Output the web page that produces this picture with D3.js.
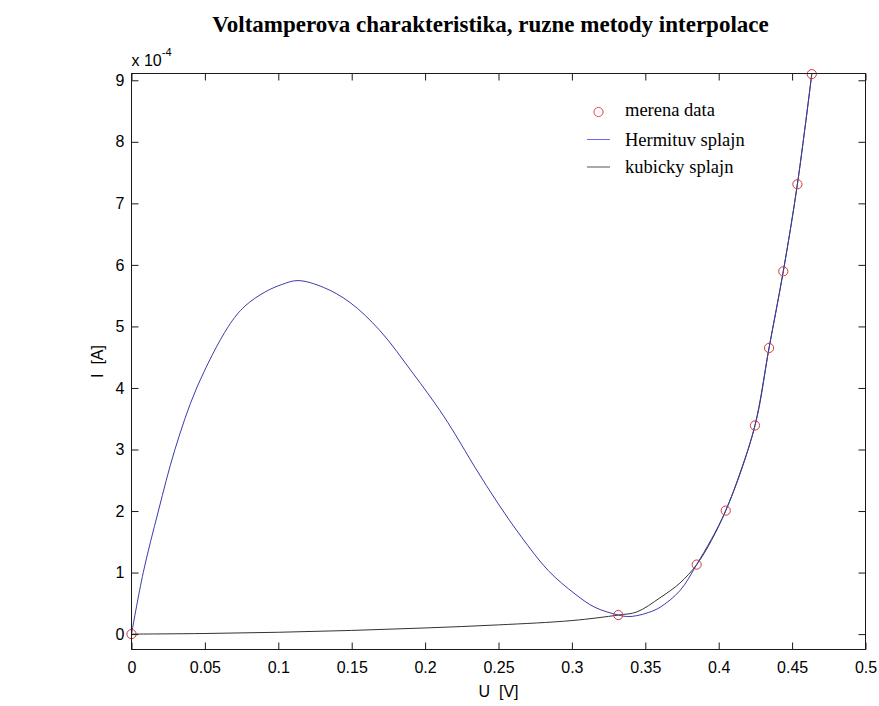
<!DOCTYPE html>
<html><head><meta charset="utf-8">
<script src="https://cdn.jsdelivr.net/npm/d3@7"></script>
<style>body{margin:0;background:#fff;} svg{display:block}</style>
</head><body><svg id="c" width="879" height="706"></svg>
<script>
// measured data (U in V, I in A)
const measuredU = [0, 0.3316, 0.385, 0.4048, 0.4247, 0.4343, 0.444, 0.4536, 0.4634];
const measuredI = [0, 0.31e-4, 1.13e-4, 2.007e-4, 3.39e-4, 4.65e-4, 5.895e-4, 7.31e-4, 9.10e-4];

// curve: "Hermituv splajn" (blue)
const hermiteU = [0, 0.008, 0.0183, 0.0296, 0.0444, 0.066, 0.0773, 0.091, 0.1023, 0.1134, 0.1307, 0.1488, 0.1693, 0.192, 0.2102, 0.2204, 0.234, 0.2499, 0.2658, 0.284, 0.3021, 0.3157, 0.3316, 0.338, 0.3442, 0.352, 0.36, 0.3736, 0.385, 0.4048, 0.4247, 0.4343, 0.444, 0.4536, 0.4634];
const hermiteI = [0, 1e-4, 2e-4, 3e-4, 4e-4, 5e-4, 5.33e-4, 5.56e-4, 5.68e-4, 5.745e-4, 5.635e-4, 5.39e-4, 4.93e-4, 4.23e-4, 3.63e-4, 3.25e-4, 2.71e-4, 2.115e-4, 1.573e-4, 1.03e-4, 0.653e-4, 0.435e-4, 0.31e-4, 0.285e-4, 0.30e-4, 0.35e-4, 0.435e-4, 0.707e-4, 1.13e-4, 2.007e-4, 3.39e-4, 4.65e-4, 5.895e-4, 7.31e-4, 9.10e-4];

// curve: "kubicky splajn" (black)
const cubicU = [0, 0.05, 0.1, 0.15, 0.2, 0.25, 0.3, 0.3316, 0.3442, 0.36, 0.3736, 0.385, 0.395, 0.4048, 0.415, 0.4247, 0.4343, 0.444, 0.4536, 0.4634];
const cubicI = [0, 0.01e-4, 0.03e-4, 0.06e-4, 0.1e-4, 0.15e-4, 0.22e-4, 0.31e-4, 0.36e-4, 0.59e-4, 0.83e-4, 1.13e-4, 1.52e-4, 2.007e-4, 2.65e-4, 3.39e-4, 4.65e-4, 5.895e-4, 7.31e-4, 9.10e-4];

const xTicks = [0, 0.05, 0.1, 0.15, 0.2, 0.25, 0.3, 0.35, 0.4, 0.45, 0.5];
const xTickLabels = ["0", "0.05", "0.1", "0.15", "0.2", "0.25", "0.3", "0.35", "0.4", "0.45", "0.5"];
const yTicks = [0, 1e-4, 2e-4, 3e-4, 4e-4, 5e-4, 6e-4, 7e-4, 8e-4, 9e-4];
const yTickLabels = ["0", "1", "2", "3", "4", "5", "6", "7", "8", "9"];
const legendLabels = ["merena data", "Hermituv splajn", "kubicky splajn"];
const titleText = "Voltamperova charakteristika, ruzne metody interpolace";

const L = 131.5, R = 865.5, T = 73.5, B = 649.5;
const svg = d3.select("#c");
const x = d3.scaleLinear().domain([0, 0.5]).range([L, R]);
const y = d3.scaleLinear().domain([-0.25e-4, 9.11e-4]).range([B, T]);

const tickFont = "'Liberation Sans', Arial, sans-serif";
const serif = "'Liberation Serif', 'Times New Roman', serif";
const axisColor = "#1a1a1a";

// curves
const line = d3.line().x(d => x(d[0])).y(d => y(d[1])).curve(d3.curveCatmullRom.alpha(0.5));
svg.append("path").datum(cubicU.map((u, i) => [u, cubicI[i]]))
  .attr("d", line).attr("fill", "none").attr("stroke", "#333").attr("stroke-width", 1);
svg.append("path").datum(hermiteU.map((u, i) => [u, hermiteI[i]]))
  .attr("d", line).attr("fill", "none").attr("stroke", "#3b3bab").attr("stroke-width", 1);

// points
svg.selectAll("circle.m").data(measuredU.map((u, i) => [u, measuredI[i]])).enter()
  .append("circle").attr("class", "m")
  .attr("cx", d => x(d[0])).attr("cy", d => y(d[1])).attr("r", 4.6)
  .attr("fill", "none").attr("stroke", "#d03a3a").attr("stroke-width", 1);

// axes (box with inward ticks on all sides)
const tl = 7;
const axB = d3.axisBottom(x).tickValues(xTicks).tickSizeInner(-tl).tickSizeOuter(0).tickPadding(12)
  .tickFormat((d, i) => xTickLabels[i]);
const axT = d3.axisTop(x).tickValues(xTicks).tickSizeInner(-tl).tickSizeOuter(0).tickFormat("");
const axL = d3.axisLeft(y).tickValues(yTicks).tickSizeInner(-tl).tickSizeOuter(0).tickPadding(7)
  .tickFormat((d, i) => yTickLabels[i]);
const axR = d3.axisRight(y).tickValues(yTicks).tickSizeInner(-tl).tickSizeOuter(0).tickFormat("");

function styleAxis(g) {
  g.select(".domain").remove();
  g.selectAll(".tick line").attr("stroke", axisColor);
  g.selectAll(".tick text").attr("fill", "#000").style("font-family", tickFont).style("font-size", "16px");
}
svg.append("g").attr("transform", `translate(0,${B})`).call(axB).call(styleAxis);
svg.append("g").attr("transform", `translate(0,${T})`).call(axT).call(styleAxis);
svg.append("g").attr("transform", `translate(${L},0)`).call(axL).call(styleAxis);
svg.append("g").attr("transform", `translate(${R},0)`).call(axR).call(styleAxis);
svg.append("rect").attr("x", L).attr("y", T).attr("width", R - L).attr("height", B - T)
  .attr("fill", "none").attr("stroke", axisColor).attr("stroke-width", 1);

// exponent label
const ex = svg.append("text").attr("x", L).attr("y", 66)
  .style("font-family", tickFont).style("font-size", "16px").attr("fill", "#000");
ex.append("tspan").text("x 10");
ex.append("tspan").attr("dy", -10).style("font-size", "11px").text("-4");

// labels
svg.append("text").attr("x", (L + R) / 2).attr("y", 697).attr("text-anchor", "middle")
  .style("font-family", tickFont).style("font-size", "16px").attr("fill", "#000").attr("xml:space", "preserve").text("U  [V]");
svg.append("text").attr("transform", `translate(103,${(T + B) / 2}) rotate(-90)`).attr("text-anchor", "middle")
  .style("font-family", tickFont).style("font-size", "16px").attr("fill", "#000").attr("xml:space", "preserve").text("I  [A]");
svg.append("text").attr("x", (L + R) / 2 - 8).attr("y", 32).attr("text-anchor", "middle")
  .style("font-family", serif).style("font-weight", "bold").style("font-size", "23px").attr("fill", "#000").text(titleText);

// legend
const lg = svg.append("g");
const ly = [110, 139.5, 167];
lg.append("circle").attr("cx", 598.5).attr("cy", ly[0] + 2).attr("r", 4.6).attr("fill", "none").attr("stroke", "#e04848");
lg.append("line").attr("x1", 587).attr("x2", 610).attr("y1", ly[1]).attr("y2", ly[1]).attr("stroke", "#6b6bf0");
lg.append("line").attr("x1", 587).attr("x2", 610).attr("y1", ly[2]).attr("y2", ly[2]).attr("stroke", "#555");
legendLabels.forEach((t, i) => {
  lg.append("text").attr("x", 625).attr("y", ly[i] + 6).style("font-family", serif).style("font-size", "18.5px")
    .attr("fill", "#000").text(t);
});
</script></body></html>
